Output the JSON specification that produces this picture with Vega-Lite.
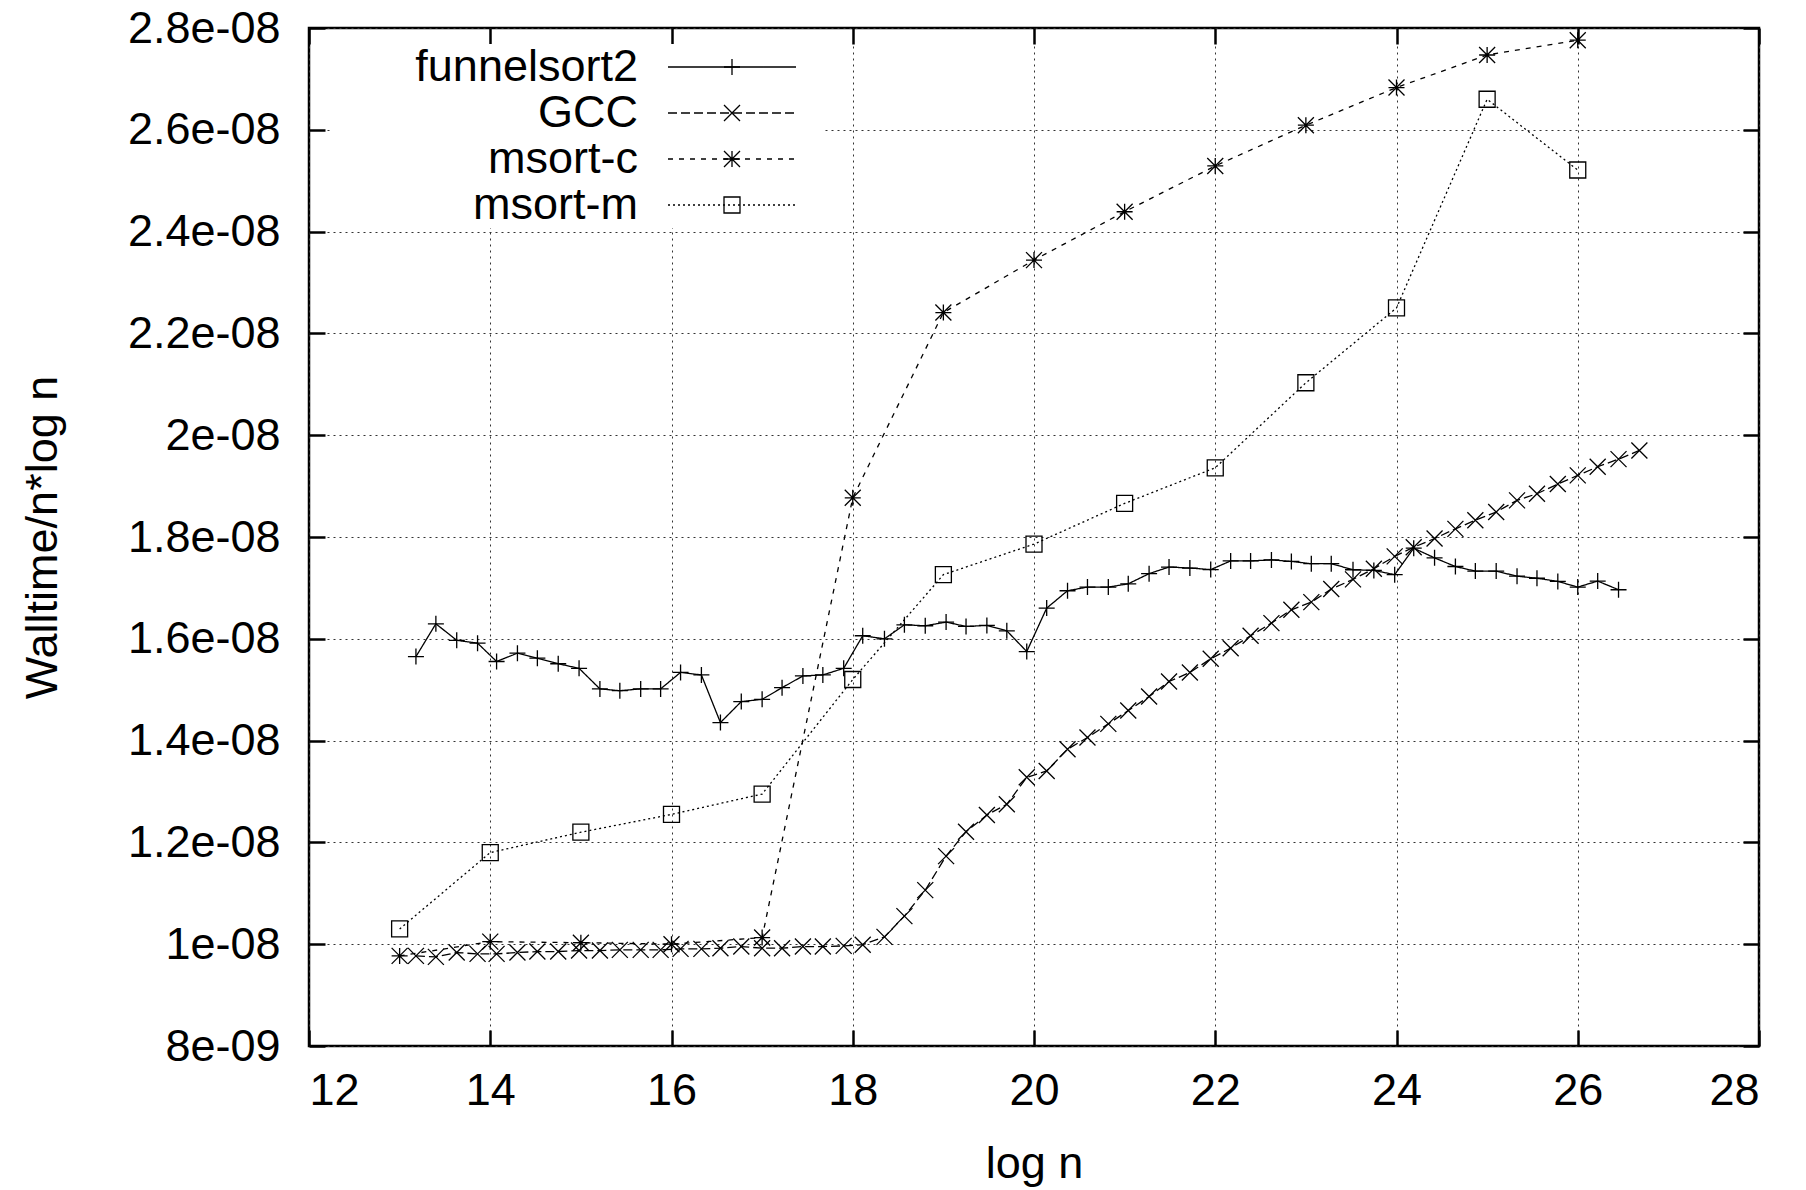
{
  "$schema": "https://vega.github.io/schema/vega-lite/v6.json",
  "width": 1450,
  "height": 1018,
  "autosize": {"type": "none"},
  "padding": {"left": 309, "top": 28, "right": 47, "bottom": 144},
  "background": "white",
  "config": {
    "view": {"stroke": "black", "strokeWidth": 2.5},
    "font": "Liberation Sans",
    "axis": {
      "labelFont": "Liberation Sans", "labelFontSize": 45, "labelColor": "black",
      "titleFont": "Liberation Sans", "titleFontSize": 45, "titleColor": "black", "titleFontWeight": "normal",
      "domain": false, "tickColor": "black", "tickWidth": 2.5, "tickSize": -16,
      "gridColor": "#333333", "gridDash": [2, 4], "gridWidth": 1
    }
  },
  "data": {"values": [
    {"s":"funnelsort2","x":13.18,"y":1.565e-8},{"s":"funnelsort2","x":13.40,"y":1.6295e-8},{"s":"funnelsort2","x":13.63,"y":1.597e-8},{"s":"funnelsort2","x":13.86,"y":1.5915e-8},{"s":"funnelsort2","x":14.07,"y":1.5554e-8},{"s":"funnelsort2","x":14.30,"y":1.5718e-8},{"s":"funnelsort2","x":14.52,"y":1.562e-8},{"s":"funnelsort2","x":14.75,"y":1.551e-8},{"s":"funnelsort2","x":14.98,"y":1.542e-8},{"s":"funnelsort2","x":15.21,"y":1.5016e-8},{"s":"funnelsort2","x":15.43,"y":1.498e-8},{"s":"funnelsort2","x":15.66,"y":1.5016e-8},{"s":"funnelsort2","x":15.88,"y":1.5016e-8},{"s":"funnelsort2","x":16.10,"y":1.534e-8},{"s":"funnelsort2","x":16.33,"y":1.529e-8},{"s":"funnelsort2","x":16.54,"y":1.4354e-8},{"s":"funnelsort2","x":16.77,"y":1.4767e-8},{"s":"funnelsort2","x":17.00,"y":1.481e-8},{"s":"funnelsort2","x":17.22,"y":1.504e-8},{"s":"funnelsort2","x":17.45,"y":1.527e-8},{"s":"funnelsort2","x":17.67,"y":1.529e-8},{"s":"funnelsort2","x":17.90,"y":1.542e-8},{"s":"funnelsort2","x":18.11,"y":1.606e-8},
    {"s":"funnelsort2","x":18.35,"y":1.600e-8},{"s":"funnelsort2","x":18.57,"y":1.6275e-8},{"s":"funnelsort2","x":18.80,"y":1.6256e-8},{"s":"funnelsort2","x":19.03,"y":1.6328e-8},{"s":"funnelsort2","x":19.25,"y":1.6243e-8},{"s":"funnelsort2","x":19.48,"y":1.6262e-8},{"s":"funnelsort2","x":19.70,"y":1.6157e-8},{"s":"funnelsort2","x":19.92,"y":1.575e-8},{"s":"funnelsort2","x":20.14,"y":1.6603e-8},{"s":"funnelsort2","x":20.37,"y":1.6944e-8},{"s":"funnelsort2","x":20.59,"y":1.7016e-8},{"s":"funnelsort2","x":20.82,"y":1.7016e-8},{"s":"funnelsort2","x":21.04,"y":1.708e-8},{"s":"funnelsort2","x":21.27,"y":1.728e-8},{"s":"funnelsort2","x":21.49,"y":1.741e-8},{"s":"funnelsort2","x":21.72,"y":1.739e-8},{"s":"funnelsort2","x":21.95,"y":1.736e-8},{"s":"funnelsort2","x":22.17,"y":1.753e-8},{"s":"funnelsort2","x":22.39,"y":1.753e-8},{"s":"funnelsort2","x":22.62,"y":1.755e-8},{"s":"funnelsort2","x":22.84,"y":1.752e-8},{"s":"funnelsort2","x":23.06,"y":1.7475e-8},{"s":"funnelsort2","x":23.28,"y":1.7475e-8},
    {"s":"funnelsort2","x":23.52,"y":1.7357e-8},{"s":"funnelsort2","x":23.75,"y":1.7344e-8},{"s":"funnelsort2","x":23.98,"y":1.726e-8},{"s":"funnelsort2","x":24.19,"y":1.778e-8},{"s":"funnelsort2","x":24.42,"y":1.759e-8},{"s":"funnelsort2","x":24.65,"y":1.742e-8},{"s":"funnelsort2","x":24.87,"y":1.733e-8},{"s":"funnelsort2","x":25.10,"y":1.733e-8},{"s":"funnelsort2","x":25.33,"y":1.723e-8},{"s":"funnelsort2","x":25.55,"y":1.719e-8},{"s":"funnelsort2","x":25.78,"y":1.7128e-8},{"s":"funnelsort2","x":26.00,"y":1.7016e-8},{"s":"funnelsort2","x":26.22,"y":1.7134e-8},{"s":"funnelsort2","x":26.45,"y":1.6964e-8},
    {"s":"GCC","x":13.18,"y":0.977e-8},{"s":"GCC","x":13.40,"y":0.9751e-8},{"s":"GCC","x":13.63,"y":0.9836e-8},{"s":"GCC","x":13.86,"y":0.981e-8},{"s":"GCC","x":14.07,"y":0.981e-8},{"s":"GCC","x":14.30,"y":0.9836e-8},{"s":"GCC","x":14.52,"y":0.9856e-8},{"s":"GCC","x":14.75,"y":0.9856e-8},{"s":"GCC","x":14.98,"y":0.9875e-8},{"s":"GCC","x":15.21,"y":0.9875e-8},{"s":"GCC","x":15.43,"y":0.9889e-8},{"s":"GCC","x":15.66,"y":0.9889e-8},{"s":"GCC","x":15.88,"y":0.9889e-8},{"s":"GCC","x":16.10,"y":0.9908e-8},{"s":"GCC","x":16.33,"y":0.9908e-8},{"s":"GCC","x":16.54,"y":0.9921e-8},{"s":"GCC","x":16.77,"y":0.9954e-8},{"s":"GCC","x":17.00,"y":0.9921e-8},{"s":"GCC","x":17.22,"y":0.9921e-8},{"s":"GCC","x":17.45,"y":0.9954e-8},{"s":"GCC","x":17.67,"y":0.9954e-8},{"s":"GCC","x":17.90,"y":0.9967e-8},{"s":"GCC","x":18.11,"y":0.999e-8},
    {"s":"GCC","x":18.35,"y":1.0144e-8},{"s":"GCC","x":18.57,"y":1.0551e-8},{"s":"GCC","x":18.80,"y":1.1062e-8},{"s":"GCC","x":19.03,"y":1.1731e-8},{"s":"GCC","x":19.25,"y":1.221e-8},{"s":"GCC","x":19.48,"y":1.2538e-8},{"s":"GCC","x":19.70,"y":1.2748e-8},{"s":"GCC","x":19.92,"y":1.3279e-8},{"s":"GCC","x":20.14,"y":1.3403e-8},{"s":"GCC","x":20.37,"y":1.383e-8},{"s":"GCC","x":20.59,"y":1.406e-8},{"s":"GCC","x":20.82,"y":1.4328e-8},{"s":"GCC","x":21.04,"y":1.459e-8},{"s":"GCC","x":21.27,"y":1.4866e-8},{"s":"GCC","x":21.49,"y":1.5161e-8},{"s":"GCC","x":21.72,"y":1.5338e-8},{"s":"GCC","x":21.95,"y":1.5607e-8},{"s":"GCC","x":22.17,"y":1.5816e-8},{"s":"GCC","x":22.39,"y":1.6059e-8},{"s":"GCC","x":22.62,"y":1.6308e-8},{"s":"GCC","x":22.84,"y":1.657e-8},{"s":"GCC","x":23.06,"y":1.672e-8},{"s":"GCC","x":23.28,"y":1.6977e-8},
    {"s":"GCC","x":23.52,"y":1.7167e-8},{"s":"GCC","x":23.75,"y":1.7377e-8},{"s":"GCC","x":23.98,"y":1.762e-8},{"s":"GCC","x":24.19,"y":1.780e-8},{"s":"GCC","x":24.42,"y":1.797e-8},{"s":"GCC","x":24.65,"y":1.816e-8},{"s":"GCC","x":24.87,"y":1.833e-8},{"s":"GCC","x":25.10,"y":1.849e-8},{"s":"GCC","x":25.33,"y":1.872e-8},{"s":"GCC","x":25.55,"y":1.885e-8},{"s":"GCC","x":25.78,"y":1.904e-8},{"s":"GCC","x":26.00,"y":1.921e-8},{"s":"GCC","x":26.22,"y":1.938e-8},{"s":"GCC","x":26.45,"y":1.953e-8},{"s":"GCC","x":26.68,"y":1.970e-8},
    {"s":"msort-c","x":13,"y":0.977e-8},{"s":"msort-c","x":14,"y":1.005e-8},{"s":"msort-c","x":15,"y":1.003e-8},{"s":"msort-c","x":16,"y":1.0e-8},{"s":"msort-c","x":17,"y":1.013e-8},{"s":"msort-c","x":18,"y":1.877e-8},{"s":"msort-c","x":19,"y":2.241e-8},{"s":"msort-c","x":20,"y":2.344e-8},{"s":"msort-c","x":21,"y":2.439e-8},{"s":"msort-c","x":22,"y":2.529e-8},{"s":"msort-c","x":23,"y":2.609e-8},{"s":"msort-c","x":24,"y":2.683e-8},{"s":"msort-c","x":25,"y":2.747e-8},{"s":"msort-c","x":26,"y":2.776e-8},
    {"s":"msort-m","x":13,"y":1.03e-8},{"s":"msort-m","x":14,"y":1.18e-8},{"s":"msort-m","x":15,"y":1.22e-8},{"s":"msort-m","x":16,"y":1.255e-8},{"s":"msort-m","x":17,"y":1.295e-8},{"s":"msort-m","x":18,"y":1.52e-8},{"s":"msort-m","x":19,"y":1.726e-8},{"s":"msort-m","x":20,"y":1.786e-8},{"s":"msort-m","x":21,"y":1.866e-8},{"s":"msort-m","x":22,"y":1.936e-8},{"s":"msort-m","x":23,"y":2.103e-8},{"s":"msort-m","x":24,"y":2.25e-8},{"s":"msort-m","x":25,"y":2.66e-8},{"s":"msort-m","x":26,"y":2.521e-8}
  ]},
  "layer": [
    {
      "mark": {"type": "line", "color": "black", "strokeWidth": 1.3},
      "encoding": {
        "x": {"field": "x", "type": "quantitative",
          "scale": {"domain": [12, 28], "nice": false, "zero": false},
          "axis": {"orient": "bottom", "values": [12, 14, 16, 18, 20, 22, 24, 26, 28], "format": "d",
            "grid": true, "title": "log n", "labelPadding": 38, "titlePadding": 28}},
        "y": {"field": "y", "type": "quantitative",
          "scale": {"domain": [8e-9, 2.8e-8], "nice": false, "zero": false},
          "axis": {"orient": "left", "values": [8e-9, 1e-8, 1.2e-8, 1.4e-8, 1.6e-8, 1.8e-8, 2e-8, 2.2e-8, 2.4e-8, 2.6e-8, 2.8e-8],
            "labelExpr": "replace(replace(format(datum.value, '.2~e'), 'e-8', 'e-08'), 'e-9', 'e-09')",
            "grid": true, "title": "Walltime/n*log n", "labelPadding": 45, "titlePadding": 62}},
        "strokeDash": {"field": "s", "type": "nominal",
          "sort": ["funnelsort2", "GCC", "msort-c", "msort-m"],
          "scale": {"range": [[1, 0], [9, 4], [5, 6], [2, 3]]},
          "legend": {"orient": "none", "legendX": 24, "legendY": 16, "title": null, "padding": 0,
            "symbolType": "stroke", "symbolSize": 16384, "symbolStrokeWidth": 1.3, "symbolStrokeColor": "black",
            "symbolOffset": 334, "labelOffset": 27, "labelExpr": "''", "labelFontSize": 9,
            "clipHeight": 46, "rowPadding": 0, "fillColor": "white"}}
      }
    },
    {
      "mark": {"type": "point", "filled": false, "color": "black", "strokeWidth": 1.3, "size": 256, "opacity": 1},
      "encoding": {
        "x": {"field": "x", "type": "quantitative",
          "scale": {"domain": [12, 28], "nice": false, "zero": false},
          "axis": {"orient": "top", "values": [12, 14, 16, 18, 20, 22, 24, 26, 28], "labels": false, "grid": false, "title": null}},
        "y": {"field": "y", "type": "quantitative",
          "scale": {"domain": [8e-9, 2.8e-8], "nice": false, "zero": false},
          "axis": {"orient": "right", "values": [8e-9, 1e-8, 1.2e-8, 1.4e-8, 1.6e-8, 1.8e-8, 2e-8, 2.2e-8, 2.4e-8, 2.6e-8, 2.8e-8], "labels": false, "grid": false, "title": null}},
        "color": {"field": "s", "type": "nominal",
          "scale": {"domain": ["funnelsort2", "GCC", "msort-c", "msort-m"], "range": ["black", "black", "black", "black"]},
          "legend": {"orient": "top-left", "offset": 16, "title": null, "padding": 0,
            "symbolType": "stroke", "symbolSize": 10000, "symbolStrokeWidth": 0, "symbolOpacity": 0,
            "symbolOffset": 0, "labelOffset": 213, "labelAlign": "right", "labelBaseline": "middle",
            "labelFont": "Liberation Sans", "labelFontSize": 45, "labelColor": "black", "labelLimit": 500,
            "clipHeight": 46, "rowPadding": 0}},
        "shape": {"field": "s", "type": "nominal",
          "scale": {"domain": ["funnelsort2", "GCC", "msort-c", "msort-m"],
            "range": ["M-1,0H1M0,-1V1", "M-1,-1L1,1M-1,1L1,-1", "M-1,0H1M0,-1V1M-1,-1L1,1M-1,1L1,-1", "M-1,-1H1V1H-1Z"]},
          "legend": {"orient": "none", "legendX": 24, "legendY": 16, "title": null, "padding": 0,
            "symbolSize": 256, "symbolStrokeWidth": 1.3, "symbolStrokeColor": "black", "symbolFillColor": "transparent",
            "symbolOffset": 390, "labelOffset": 10, "labelExpr": "''", "labelFontSize": 10,
            "clipHeight": 46, "rowPadding": 0}}
      }
    }
  ],
  "resolve": {"axis": {"x": "independent", "y": "independent"}}
}
